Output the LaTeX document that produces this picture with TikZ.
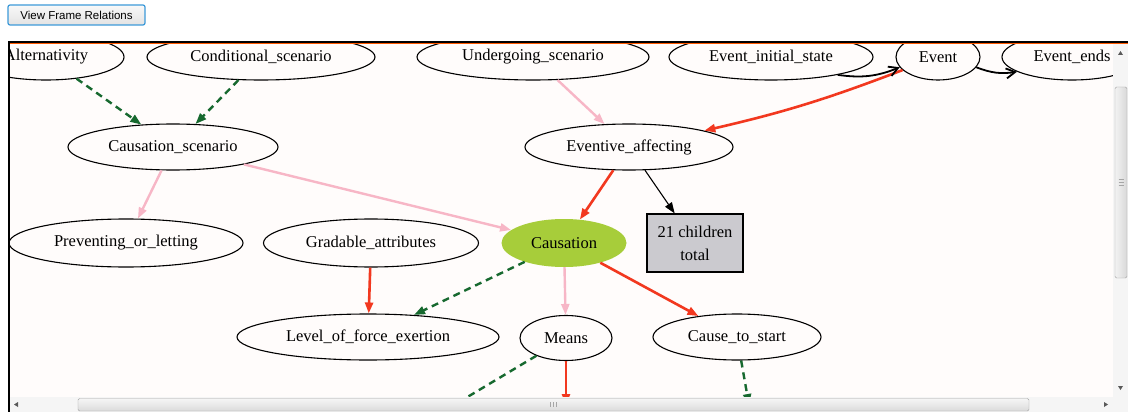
\documentclass[tikz,border=0pt]{standalone}
\usepackage{fontspec}
\setmainfont{Liberation Serif}
\newfontfamily\uifont{Liberation Sans}
\usetikzlibrary{shapes.geometric, arrows.meta, positioning}
\definecolor{FNred}{HTML}{F2381F}
\definecolor{FNpink}{HTML}{F7B6C6}
\definecolor{FNgreen}{HTML}{17692F}
\definecolor{FNlime}{HTML}{A7CD3A}
\definecolor{FNbox}{HTML}{CBCACF}
\definecolor{FNpanel}{HTML}{FFFCFB}
\definecolor{FNbtn}{HTML}{3D9AD9}
\definecolor{FNbar}{HTML}{A3A3A3}

\begin{document}
\begin{tikzpicture}[x=1pt, y=-1pt,
   frame/.style={ellipse, draw, line width=1.1pt, inner sep=0pt, font=\fontsize{16.5}{18}\selectfont},
   tip/.style={-{Triangle[length=11pt, width=8pt]}},
   inherit/.style={tip, FNred, line width=2.6pt},
   using/.style={tip, FNpink, line width=2.4pt},
   persp/.style={tip, FNgreen, line width=2.4pt, dash pattern=on 7pt off 5pt},
   prec/.style={-{Straight Barb[length=9pt, width=10pt]}, line width=1.8pt},
   more/.style={-{Triangle[length=11pt, width=8pt]}, line width=1.1pt}
]
   \useasboundingbox (0,0) rectangle (1128,412);
   \fill[white] (0,0) rectangle (1128,412);
   % Button
   \shade[top color=gray!5, bottom color=gray!22, draw=FNbtn, line width=1.2pt, rounded corners=2pt]
      (8,5) rectangle (145,25);
   \node[font=\uifont\fontsize{11.5}{13}\selectfont] (btn) at (76.5,15.5) {View Frame Relations};
   % Panel
   \fill[FNpanel] (9,42) rectangle (1128,412);
   \begin{scope}
      \clip (10,43) rectangle (1113,397);
      % Top row
      \node[frame, minimum width=156, minimum height=46] (alt) at (46,57) {Alternativity};
      \node[frame, minimum width=228, minimum height=46] (cond) at (261,57) {Conditional\_scenario};
      \node[frame, minimum width=232, minimum height=46] (under) at (533,57) {Undergoing\_scenario};
      \node[frame, minimum width=204, minimum height=46] (einit) at (771,57) {Event\_initial\_state};
      \node[frame, minimum width=84, minimum height=46] (event) at (938,57) {Event};
      \node[frame, minimum width=140, minimum height=46] (eends) at (1072,57) {Event\_ends};
      % Second row
      \node[frame, minimum width=210, minimum height=46] (cscen) at (173,147) {Causation\_scenario};
      \node[frame, minimum width=208, minimum height=46] (eaff) at (629,147) {Eventive\_affecting};
      % Third row
      \node[frame, minimum width=234, minimum height=48] (prev) at (126,243) {Preventing\_or\_letting};
      \node[frame, minimum width=215, minimum height=48] (grad) at (371,243) {Gradable\_attributes};
      \node[ellipse, fill=FNlime, inner sep=0pt, minimum width=125, minimum height=48,
         font=\fontsize{16.5}{18}\selectfont] (caus) at (564,243) {Causation};
      \node[draw, fill=FNbox, line width=1.1pt, minimum width=96, minimum height=58, align=center,
         font=\fontsize{16.5}{23}\selectfont] (box) at (695,243) {21 children\\total};
      % Fourth row
      \node[frame, minimum width=262, minimum height=46] (level) at (368,337) {Level\_of\_force\_exertion};
      \node[frame, minimum width=92, minimum height=45] (means) at (566,338) {Means};
      \node[frame, minimum width=168, minimum height=46] (cstart) at (737,337) {Cause\_to\_start};
      % Children out of view
      \coordinate (lowA) at (434,417);
      \coordinate (lowB) at (566,405);
      \coordinate (lowC) at (749,405);
      % Inheritance (red)
      \draw[inherit] (event) to[bend left=4] (eaff);
      \draw[inherit] (eaff) -- (caus);
      \draw[inherit] (caus) -- (cstart);
      \draw[inherit] (grad) -- (level);
      \draw[inherit] (means) -- (lowB);
      % Using (pink)
      \draw[using] (under) -- (eaff);
      \draw[using] (cscen) -- (caus);
      \draw[using] (cscen) -- (prev);
      \draw[using] (caus) -- (means);
      % Perspective (green dashed)
      \draw[persp] (alt) -- (cscen);
      \draw[persp] (cond) -- (cscen);
      \draw[persp] (caus) -- (level);
      \draw[persp] (means) -- (lowA);
      \draw[persp] (cstart) -- (lowC);
      % Precedes (black)
      \draw[prec] (einit) to[bend right=15] (event);
      \draw[prec] (event) to[bend right=15] (eends);
      \draw[more] (eaff) -- (box);
   \end{scope}
   % Panel border
   \draw[line width=1.5pt] (9,412) -- (9,42) -- (1128,42);
   \draw[orange!70!red, line width=0.5pt] (10,43.5) -- (1128,43.5);
   % Vertical scrollbar
   \fill[gray!8] (1113,44) rectangle (1128,397);
   \shade[left color=gray!10, right color=gray!30, draw=FNbar, rounded corners=1.5pt]
      (1115,87) rectangle (1127,278);
   \foreach \y in {179,182,185}
      \draw[gray!70, line width=0.6pt] (1118.5,\y) -- (1123.5,\y);
   \fill[gray!70!black] (1118,55) -- (1123,55) -- (1120.5,51) -- cycle;
   \fill[gray!70!black] (1118,386) -- (1123,386) -- (1120.5,390) -- cycle;
   % Horizontal scrollbar
   \fill[gray!8] (10,397) rectangle (1128,412);
   \shade[top color=gray!8, bottom color=gray!28, draw=FNbar, rounded corners=1.5pt]
      (78,398.5) rectangle (1029,411);
   \foreach \x in {550,553,556}
      \draw[gray!70, line width=0.6pt] (\x,402) -- (\x,407);
   \fill[gray!70!black] (18,402) -- (18,407) -- (14,404.5) -- cycle;
   \fill[gray!70!black] (1104,402) -- (1104,407) -- (1108,404.5) -- cycle;
\end{tikzpicture}
\end{document}
